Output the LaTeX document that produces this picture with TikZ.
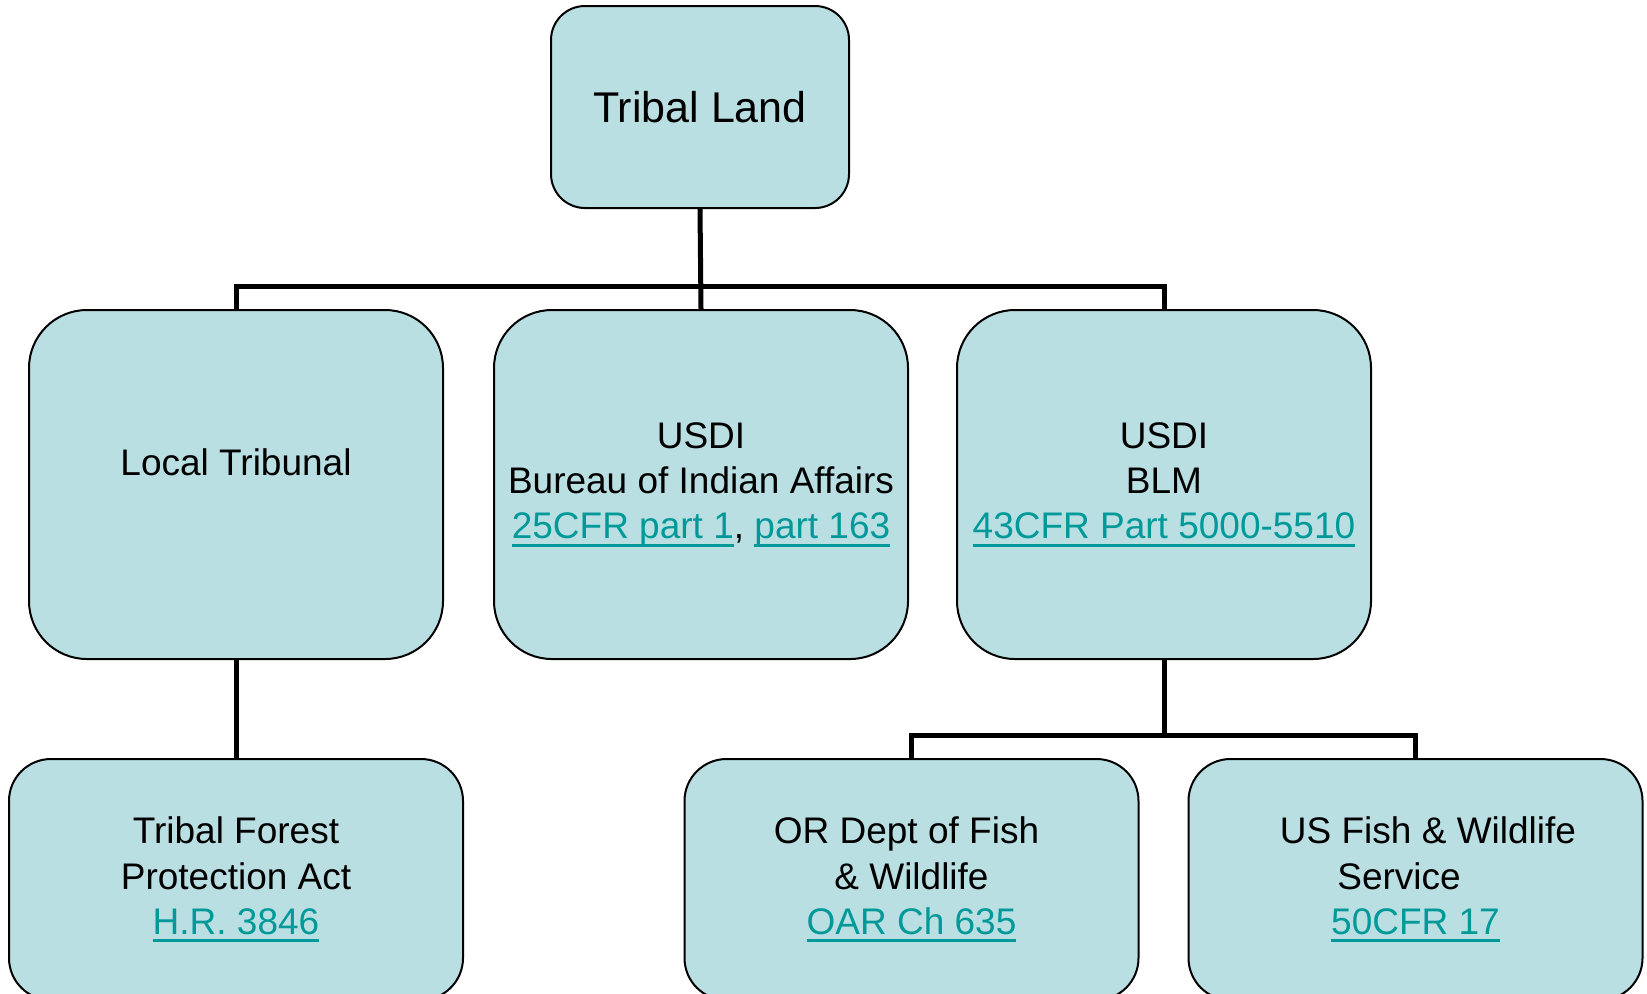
\documentclass[tikz,border=0pt]{standalone}
\usepackage{fontspec}
\setmainfont{Liberation Sans}
\definecolor{boxfill}{HTML}{BADFE2}
\definecolor{linkteal}{HTML}{009999}
\newcommand{\lnk}[1]{\textcolor{linkteal}{\setbox0\hbox{#1}\rlap{\rule[-3.9pt]{\wd0}{1.3pt}}\box0}}
\tikzset{
  box/.style={draw=black, line width=1pt, fill=boxfill, align=center, inner sep=0pt,
    font=\fontsize{18.5}{22.6}\selectfont},
  topbox/.style={box, minimum width=149pt, minimum height=101pt, rounded corners=17pt,
    font=\fontsize{21.5}{25.8}\selectfont},
  midbox/.style={box, minimum width=207pt, minimum height=174.5pt, rounded corners=29pt},
  lowbox/.style={box, minimum width=227pt, minimum height=120.5pt, rounded corners=21pt},
  conn/.style={line width=2.5pt}
}
\begin{document}
\begin{tikzpicture}[x=0.5pt,y=-0.5pt]
   \useasboundingbox (0,0) rectangle (1647,993);
   \node[topbox] (land) at (700,107) {Tribal Land};
   \node[midbox] (tribunal) at (236,484.5) {Local Tribunal\\\mbox{}};
   \node[midbox] (bia)      at (701,484.5) {USDI\\Bureau of Indian Affairs\\\lnk{25CFR part 1}, \lnk{part 163}};
   \node[midbox] (blm)      at (1164,484.5) {USDI\\BLM\\\lnk{43CFR Part 5000-5510}};
   \node[lowbox] (forest)   at (236,879.5) {Tribal Forest\\Protection Act\\\lnk{H.R. 3846}};
   \node[lowbox] (ordfw)    at (911.5,879.5) {OR Dept of Fish\kern5pt\\\& Wildlife\\\lnk{OAR Ch 635}};
   \node[lowbox] (usfws)    at (1415.5,879.5) {\kern12.5pt US Fish \& Wildlife\\Service\kern16.5pt\\\lnk{50CFR 17}};
   \coordinate (bus1) at (700,286);
   \coordinate (bus2) at (1164,735);
   \draw[conn] (land.south) -- (bia.north);
   \draw[conn] (tribunal.north) |- (bus1) -| (blm.north);
   \draw[conn] (tribunal.south) -- (forest.north);
   \draw[conn] (blm.south) -- (bus2);
   \draw[conn] (ordfw.north) |- (bus2) -| (usfws.north);
\end{tikzpicture}
\end{document}
